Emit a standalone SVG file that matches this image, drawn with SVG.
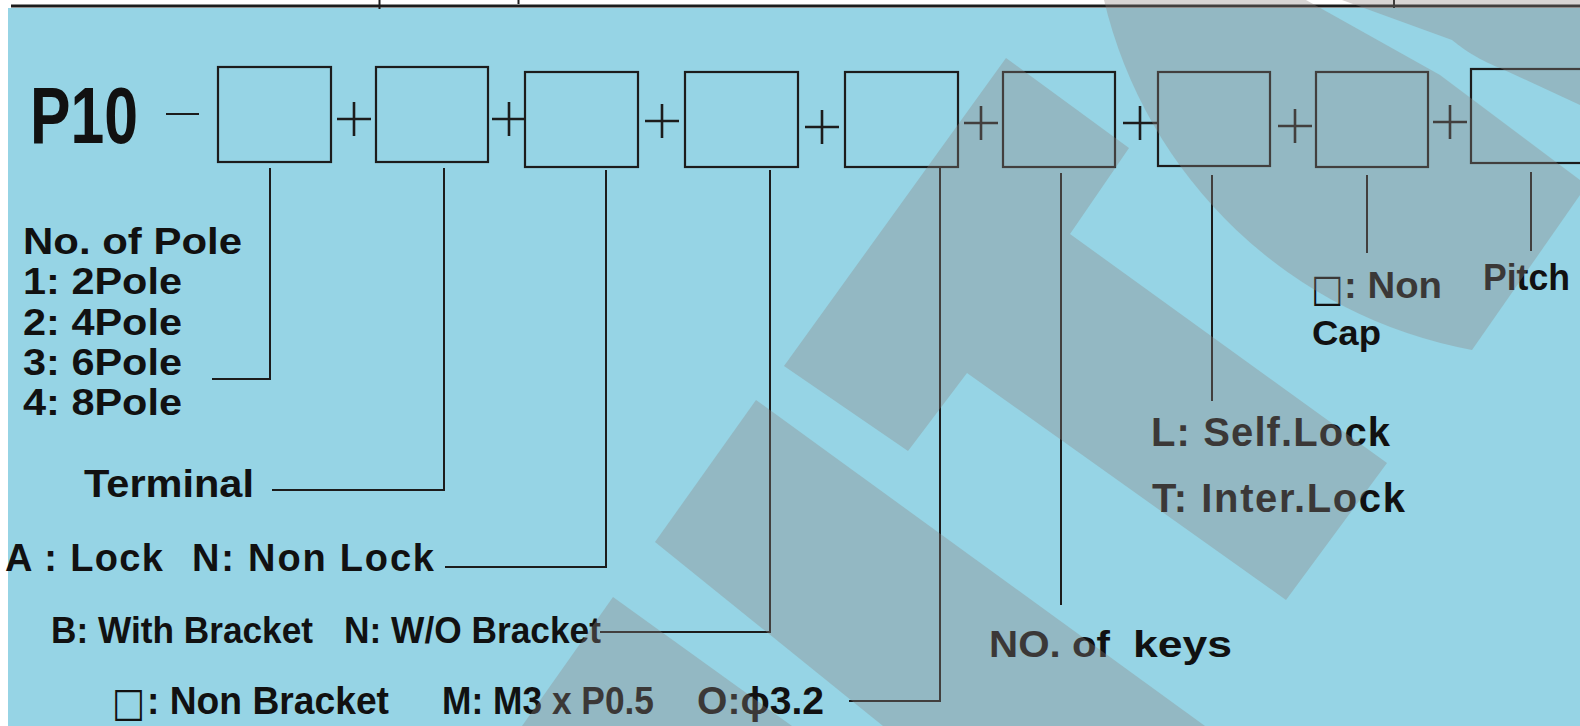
<svg xmlns="http://www.w3.org/2000/svg" width="1580" height="726" viewBox="0 0 1580 726">
<style>
.t{font-family:"Liberation Sans",Arial,sans-serif;font-weight:bold;fill:#111}
.n{font-family:"Liberation Sans Narrow","Arial Narrow","Liberation Sans",sans-serif;font-weight:bold;fill:#111}
.sq{font-family:"DejaVu Sans",sans-serif;fill:#111}
.box{fill:none;stroke:#1c1c1c;stroke-width:2.2}
.ln{fill:none;stroke:#1c1c1c;stroke-width:2}
.pl{fill:none;stroke:#1c1c1c;stroke-width:2.6}
.wm{fill:#8e8482;fill-opacity:0.34;stroke:none}
</style>
<rect width="1580" height="726" fill="#ffffff"/>
<rect x="8" y="8" width="1572" height="718" fill="#96d4e5"/>
<g id="header-rule" class="ln">
<line x1="11" y1="6" x2="1580" y2="6" stroke-width="3"/>
<line x1="379.5" y1="0" x2="379.5" y2="9"/>
<line x1="518.5" y1="0" x2="518.5" y2="4"/>
<line x1="1394" y1="0" x2="1394" y2="8"/>
</g>
<g id="title">
<text class="n" x="30" y="143" font-size="80" textLength="108" lengthAdjust="spacingAndGlyphs">P10</text>
<line class="ln" x1="166" y1="114" x2="199" y2="114"/>
</g>
<g id="box1"><rect class="box" x="218" y="67" width="113" height="95"/></g>
<g id="box2"><rect class="box" x="376" y="67" width="112" height="95"/></g>
<g id="box3"><rect class="box" x="525" y="72" width="113" height="95"/></g>
<g id="box4"><rect class="box" x="685" y="72" width="113" height="95"/></g>
<g id="box5"><rect class="box" x="845" y="72" width="113" height="95"/></g>
<g id="box6"><rect class="box" x="1003" y="72" width="112" height="95"/></g>
<g id="box7"><rect class="box" x="1158" y="72" width="112" height="94"/></g>
<g id="box8"><rect class="box" x="1316" y="72" width="112" height="95"/></g>
<g id="box9"><rect class="box" x="1471" y="69" width="130" height="94"/></g>
<g id="plus-signs" class="pl">
<path d="M337,119 H371 M354,102 V136"/>
<path d="M492,119 H526 M509,102 V136"/>
<path d="M645,121 H679 M662,104 V138"/>
<path d="M805,127 H839 M822,110 V144"/>
<path d="M964,123 H998 M981,106 V140"/>
<path d="M1123,123 H1157 M1140,106 V140"/>
<path d="M1278,126 H1312 M1295,109 V143"/>
<path d="M1433,122 H1467 M1450,105 V139"/>
</g>
<g id="connectors" class="ln">
<path d="M270,168 V379 H212"/>
<path d="M444,168 V490 H272"/>
<path d="M606,170 V567 H445"/>
<path d="M770,170 V632 H600"/>
<path d="M940,168 V701 H849"/>
<path d="M1061,173 V605"/>
<path d="M1212,175 V401"/>
<path d="M1367,175 V253"/>
<path d="M1531,172 V251"/>
</g>
<g id="label-poles">
<text class="t" x="23" y="254" font-size="37" textLength="219" lengthAdjust="spacingAndGlyphs">No. of Pole</text>
<text class="t" x="23" y="294" font-size="37" textLength="159" lengthAdjust="spacingAndGlyphs">1: 2Pole</text>
<text class="t" x="23" y="335" font-size="37" textLength="159" lengthAdjust="spacingAndGlyphs">2: 4Pole</text>
<text class="t" x="23" y="375" font-size="37" textLength="159" lengthAdjust="spacingAndGlyphs">3: 6Pole</text>
<text class="t" x="23" y="415" font-size="37" textLength="159" lengthAdjust="spacingAndGlyphs">4: 8Pole</text>
</g>
<g id="label-terminal">
<text class="t" x="84" y="497" font-size="39" textLength="170" lengthAdjust="spacingAndGlyphs">Terminal</text>
</g>
<g id="label-lock">
<text class="t" x="5" y="571" font-size="38" textLength="158" lengthAdjust="spacing">A : Lock</text>
<text class="t" x="192" y="571" font-size="38" textLength="242" lengthAdjust="spacing">N: Non Lock</text>
</g>
<g id="label-bracket">
<text class="n" x="51" y="643" font-size="36" textLength="262" lengthAdjust="spacingAndGlyphs">B: With Bracket</text>
<text class="n" x="344" y="643" font-size="36" textLength="257" lengthAdjust="spacingAndGlyphs">N: W/O Bracket</text>
</g>
<g id="label-mount">
<text class="sq" x="112" y="716" font-size="40" textLength="33" lengthAdjust="spacingAndGlyphs">□</text>
<text class="n" x="147" y="714" font-size="39" textLength="242" lengthAdjust="spacingAndGlyphs">: Non Bracket</text>
<text class="n" x="442" y="714" font-size="39" textLength="212" lengthAdjust="spacingAndGlyphs">M: M3 x P0.5</text>
<text class="n" x="697" y="714" font-size="39" textLength="127" lengthAdjust="spacingAndGlyphs">O:ϕ3.2</text>
</g>
<g id="label-keys">
<text class="t" x="989" y="657" font-size="37" textLength="121" lengthAdjust="spacingAndGlyphs">NO. of</text>
<text class="t" x="1133" y="657" font-size="37" textLength="99" lengthAdjust="spacingAndGlyphs">keys</text>
</g>
<g id="label-locktype">
<text class="t" x="1151" y="446" font-size="40" textLength="239" lengthAdjust="spacing">L: Self.Lock</text>
<text class="t" x="1152" y="512" font-size="40" textLength="253" lengthAdjust="spacing">T: Inter.Lock</text>
</g>
<g id="label-cap">
<text class="sq" x="1311" y="301" font-size="38" textLength="32" lengthAdjust="spacingAndGlyphs">□</text>
<text class="t" x="1344" y="298" font-size="36" textLength="98" lengthAdjust="spacingAndGlyphs">: Non</text>
<text class="t" x="1312" y="345" font-size="35" textLength="69" lengthAdjust="spacingAndGlyphs">Cap</text>
</g>
<g id="label-pitch">
<text class="n" x="1483" y="290" font-size="37" textLength="87" lengthAdjust="spacingAndGlyphs">Pitch</text>
</g>
<g id="watermark" class="wm">
<polygon points="1006,58 1129,148 1070,234 1387,463 1286,600 967,373 908,451 784,366"/>
<polygon points="756,400 1205,726 883,726 655,542"/>
<polygon points="613,597 792,726 522,726"/>
<path d="M1104,0 L1306,0 L1440,75 L1580,180 L1580,195 L1472,350 A465,465 0 0 1 1104,0 Z"/>
<path d="M1342,0 L1580,0 L1580,105 L1500,68 C1475,58 1462,48 1452,40 Z"/>
</g>
</svg>
